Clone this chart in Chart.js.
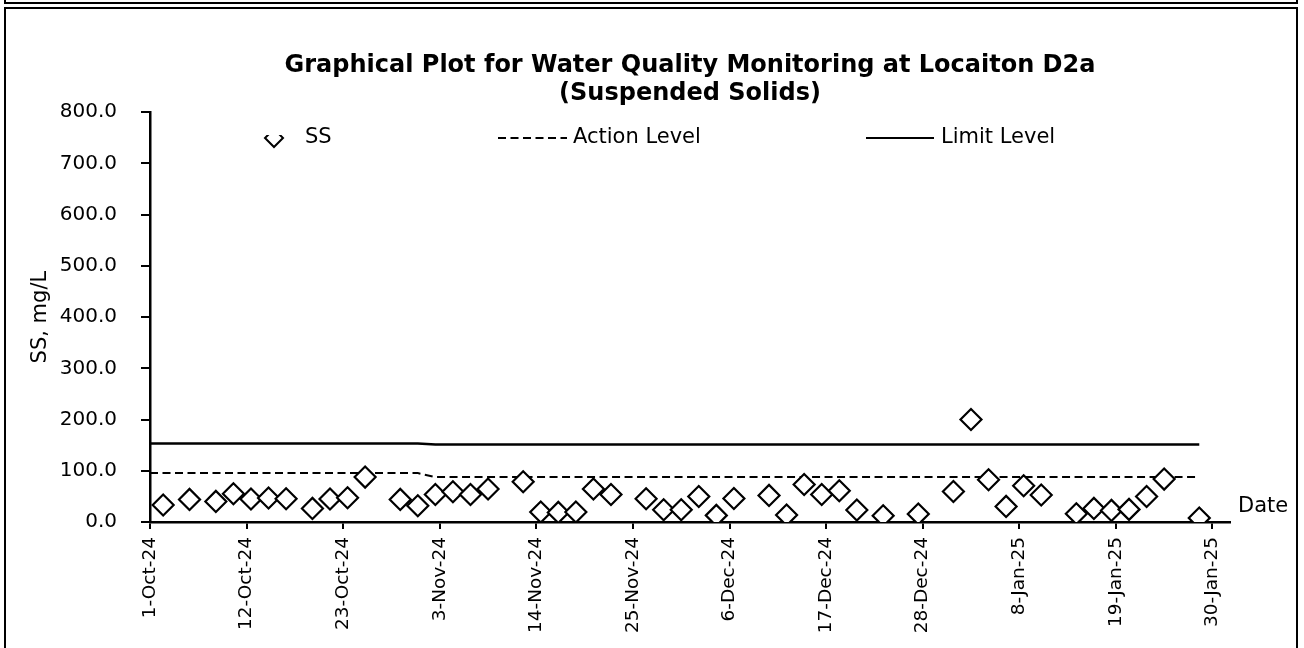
<!DOCTYPE html>
<html>
<head>
<meta charset="utf-8">
<script src="https://cdn.jsdelivr.net/npm/chart.js@4.4.1/dist/chart.umd.min.js"></script>
<style>
  html, body { margin: 0; background: #fff; }
  #prev { position: absolute; left: 4px; top: -10px; width: 1290px; height: 10px; border: 2px solid #000; }
  #frame { position: absolute; left: 4px; top: 7px; width: 1290px; height: 700px; border: 2px solid #000; }
  #wrap { position: absolute; left: 0; top: 0; width: 1304px; height: 648px; }
</style>
</head>
<body>
<div id="prev"></div>
<div id="frame"></div>
<div id="wrap"><canvas id="ssChart"></canvas></div>
<script>
// sampling dates (samples taken around midday)
const ssDates = [
  '2024-10-02', '2024-10-05', '2024-10-08', '2024-10-10', '2024-10-12', '2024-10-14', '2024-10-16',
  '2024-10-19', '2024-10-21', '2024-10-23', '2024-10-25', '2024-10-29', '2024-10-31',
  '2024-11-02', '2024-11-04', '2024-11-06', '2024-11-08', '2024-11-12', '2024-11-14', '2024-11-16',
  '2024-11-18', '2024-11-20', '2024-11-22', '2024-11-26', '2024-11-28', '2024-11-30',
  '2024-12-02', '2024-12-04', '2024-12-06', '2024-12-10', '2024-12-12', '2024-12-14', '2024-12-16',
  '2024-12-18', '2024-12-20', '2024-12-23', '2024-12-27', '2024-12-31',
  '2025-01-02', '2025-01-04', '2025-01-06', '2025-01-08', '2025-01-10', '2025-01-14', '2025-01-16',
  '2025-01-18', '2025-01-20', '2025-01-22', '2025-01-24', '2025-01-28'
];
// suspended solids, mg/L
const ssValues = [
  33.1, 44.1, 40.2, 55.2, 44.8, 46.8, 45.4, 26.5, 44.8, 47.4, 87.7, 44.1, 31.8,
  53.8, 59.1, 53.8, 64.3, 78.6, 19.5, 18.7, 19.5, 64.3, 53.8, 45.4, 24.0, 24.0,
  49.9, 12.9, 46.0, 51.9, 13.6, 73.3, 53.8, 61.0, 23.4, 12.3, 15.6, 59.6,
  200.0, 82.5, 30.4, 70.8, 52.6, 16.2, 26.5, 22.6, 24.6, 49.9, 83.8, 7.8
];
const SAMPLE_TIME = '12:00';

// action / limit levels (changed between October and November)
const levelDates = ['2024-10-01T00:00', '2024-10-31T12:00', '2024-11-02T12:00', '2025-01-28T12:00'];
const actionLevel = [95.5, 95.5, 87.7, 87.7];
const limitLevel = [153.2, 153.2, 151.3, 151.3];

// x axis
const axisStart = '2024-10-01';
const axisEnd = '2025-02-01';
const tickDates = ['2024-10-01', '2024-10-12', '2024-10-23', '2024-11-03', '2024-11-14', '2024-11-25',
  '2024-12-06', '2024-12-17', '2024-12-28', '2025-01-08', '2025-01-19', '2025-01-30'];
const yTicks = [0, 100, 200, 300, 400, 500, 600, 700, 800];

const MONTHS = ['Jan', 'Feb', 'Mar', 'Apr', 'May', 'Jun', 'Jul', 'Aug', 'Sep', 'Oct', 'Nov', 'Dec'];
const DAY = 86400000;
const t0 = Date.parse(axisStart + 'T00:00Z');
const dayOf = s => (Date.parse((s.length > 10 ? s : s + 'T' + SAMPLE_TIME) + 'Z') - t0) / DAY;
const fmtDay = v => {
  const d = new Date(t0 + Math.round(v) * DAY);
  return d.getUTCDate() + '-' + MONTHS[d.getUTCMonth()] + '-' + String(d.getUTCFullYear()).slice(2);
};

Chart.defaults.font.family = 'DejaVu Sans';
Chart.defaults.color = '#000';

// Excel-style legend row inside the plot plus the "Date" caption
const keyLegend = {
  id: 'keyLegend',
  afterDraw(chart, args, opts) {
    const ctx = chart.ctx;
    ctx.save();
    ctx.font = opts.fontSize + 'px DejaVu Sans';
    ctx.textBaseline = 'middle';
    ctx.fillStyle = '#000';
    chart.data.datasets.forEach((ds, i) => {
      const slot = opts.slots[i];
      const y = opts.y;
      ctx.strokeStyle = ds.borderColor;
      ctx.lineWidth = 2;
      if (ds.showLine) {
        ctx.setLineDash(ds.borderDash || []);
        ctx.beginPath();
        ctx.moveTo(slot.from, y);
        ctx.lineTo(slot.to, y);
        ctx.stroke();
        ctx.setLineDash([]);
      } else {
        // the key marker only shows its lower half
        const cx = (slot.from + slot.to) / 2, r = 9;
        ctx.save();
        ctx.beginPath();
        ctx.rect(cx - r - 3, y - 3, 2 * r + 6, r + 6);
        ctx.clip();
        ctx.beginPath();
        ctx.moveTo(cx, y - r);
        ctx.lineTo(cx + r, y);
        ctx.lineTo(cx, y + r);
        ctx.lineTo(cx - r, y);
        ctx.closePath();
        ctx.stroke();
        ctx.restore();
      }
      ctx.fillText(ds.label, slot.text, y);
    });
    const xs = chart.scales.x;
    ctx.fillText(opts.axisLabel, xs.right + 8, chart.scales.y.getPixelForValue(0) - 15);
    ctx.restore();
  }
};

new Chart(document.getElementById('ssChart'), {
  type: 'scatter',
  data: {
    datasets: [
      {
        label: 'SS',
        data: ssDates.map((d, i) => ({ x: dayOf(d), y: ssValues[i] })),
        showLine: false,
        pointStyle: 'rectRot',
        pointRadius: 10.5,
        pointHoverRadius: 10.5,
        pointBorderWidth: 2.2,
        borderColor: '#000',
        backgroundColor: '#fff',
        order: 0
      },
      {
        label: 'Action Level',
        data: levelDates.map((d, i) => ({ x: dayOf(d), y: actionLevel[i] })),
        showLine: true,
        borderColor: '#000',
        borderWidth: 2,
        borderDash: [8, 4.5],
        pointRadius: 0,
        order: 1
      },
      {
        label: 'Limit Level',
        data: levelDates.map((d, i) => ({ x: dayOf(d), y: limitLevel[i] })),
        showLine: true,
        borderColor: '#000',
        borderWidth: 2.5,
        pointRadius: 0,
        order: 2
      }
    ]
  },
  options: {
    responsive: true,
    maintainAspectRatio: false,
    animation: false,
    layout: { padding: { left: 0, right: 74, top: 0, bottom: 0 } },
    plugins: {
      legend: { display: false },
      tooltip: { enabled: false },
      title: {
        display: true,
        fullSize: false,
        text: ['Graphical Plot for Water Quality Monitoring at Locaiton D2a', '(Suspended Solids)'],
        color: '#000',
        font: { size: 24, weight: 'bold', lineHeight: 1.15 },
        padding: { top: 52, bottom: 5 }
      },
      keyLegend: {
        y: 138,
        fontSize: 21,
        axisLabel: 'Date',
        slots: [
          { from: 265, to: 283, text: 305 },
          { from: 498, to: 567, text: 573 },
          { from: 866, to: 934, text: 941 }
        ]
      }
    },
    scales: {
      x: {
        type: 'linear',
        min: 0,
        max: dayOf(axisEnd + 'T00:00'),
        afterBuildTicks: s => { s.ticks = tickDates.map(d => ({ value: dayOf(d + 'T00:00') })); },
        afterFit: s => { s.height = 126; },
        ticks: {
          callback: v => fmtDay(v),
          autoSkip: false,
          minRotation: 90,
          maxRotation: 90,
          padding: 8,
          font: { size: 18.5 },
          color: '#000'
        },
        grid: { drawOnChartArea: false, drawTicks: true, tickLength: 7, color: '#000', lineWidth: 2 },
        border: { display: true, color: '#000', width: 2.5 }
      },
      y: {
        min: 0,
        max: 800,
        afterBuildTicks: s => { s.ticks = yTicks.map(v => ({ value: v })); },
        afterFit: s => { s.width = 150; },
        ticks: {
          callback: v => v.toFixed(1),
          padding: 24,
          font: { size: 20 },
          color: '#000'
        },
        grid: { drawOnChartArea: false, drawTicks: true, tickLength: 9, color: '#000', lineWidth: 2 },
        border: { display: true, color: '#000', width: 2.5 },
        title: {
          display: true,
          text: 'SS, mg/L',
          font: { size: 21 },
          color: '#000',
          padding: { top: 28, bottom: 0 }
        }
      }
    }
  },
  plugins: [keyLegend]
});
</script>
</body>
</html>
